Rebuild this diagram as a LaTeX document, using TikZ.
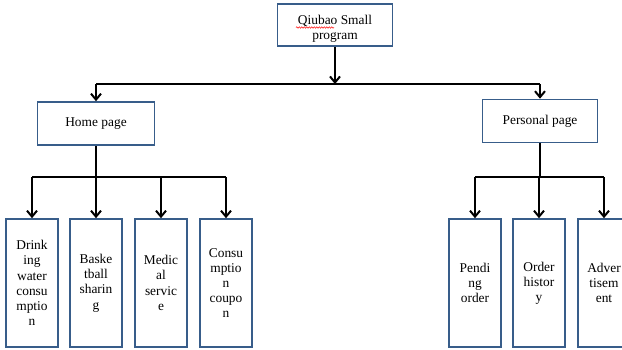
\documentclass[tikz,border=0pt]{standalone}
\usepackage{fontspec}
\setmainfont{Liberation Serif}
\usetikzlibrary{arrows.meta}
\usetikzlibrary{decorations.pathmorphing}

\begin{document}
\begin{tikzpicture}
    [x=1pt,y=-1pt,
    % Styles
    page box/.style={draw=boxcolor, line width=1.6pt, minimum width=115pt,
        minimum height=43pt, align=center, inner sep=2pt,
        font=\fontsize{13.4}{15.4}\selectfont},
    item box/.style={draw=boxcolor, line width=1.6pt, minimum width=52pt,
        minimum height=128pt, align=center, inner sep=1pt,
        font=\fontsize{13.4}{15.2}\selectfont},
    link/.style={line width=2pt},
    branch/.style={link, -{Straight Barb[length=6pt,width=10pt,line width=2pt]}}]

    % Colors
    \definecolor{boxcolor}{RGB}{56,93,138}

    \useasboundingbox (0,0) rectangle (622,349);

    % Coordinates
    \coordinate (hub) at (335,84);
    \coordinate (home bar) at (96,177);
    \coordinate (personal bar) at (540,177);

    % Pages
    \node[page box, minimum height=42pt] (top) at (335,25)
        {\rule{0pt}{17pt}Qiubao Small\\program};
    \node[page box, minimum width=117pt] (home) at (96,123.5) {Home page};
    \node[page box] (personal) at (540,121) {Personal page};

    % spell check mark
    \draw[red, line width=0.5pt, decorate,
          decoration={snake, segment length=2.5pt, amplitude=0.7pt}]
        (296,27.5) -- (334,27.5);

    % Items
    \foreach \x/\name/\itemtext in {32/drink/{Drink\\ing\\water\\consu\\mptio\\n},
                                    96/basket/{Baske\\tball\\sharin\\g},
                                    161/medical/{Medic\\al\\servic\\e},
                                    226/coupon/{Consu\\mptio\\n\\coupo\\n}}
    {
        \node[item box] (\name) at (\x,283) {\itemtext};
        \draw[branch] (\name.north |- home bar) -- (\name.north);
    }
    \foreach \x/\name/\itemtext in {475/pending/{Pendi\\ng\\order},
                                    539/history/{Order\\histor\\y},
                                    604/advert/{Adver\\tisem\\ent}}
    {
        \node[item box] (\name) at (\x,283) {\itemtext};
        \draw[branch] (\name.north |- personal bar) -- (\name.north);
    }

    % Connectors
    \draw[branch] (top.south) -- (hub);
    \draw[link] (home.north |- hub) -- (personal.north |- hub);
    \draw[branch] (home.north |- hub) -- (home.north);
    \draw[branch] (personal.north |- hub) -- (personal.north);

    \draw[link] (home.south) -- (home bar);
    \draw[link] (drink.north |- home bar) -- (coupon.north |- home bar);
    \draw[link] (personal.south) -- (personal bar);
    \draw[link] (pending.north |- personal bar) -- (advert.north |- personal bar);

\end{tikzpicture}
\end{document}
